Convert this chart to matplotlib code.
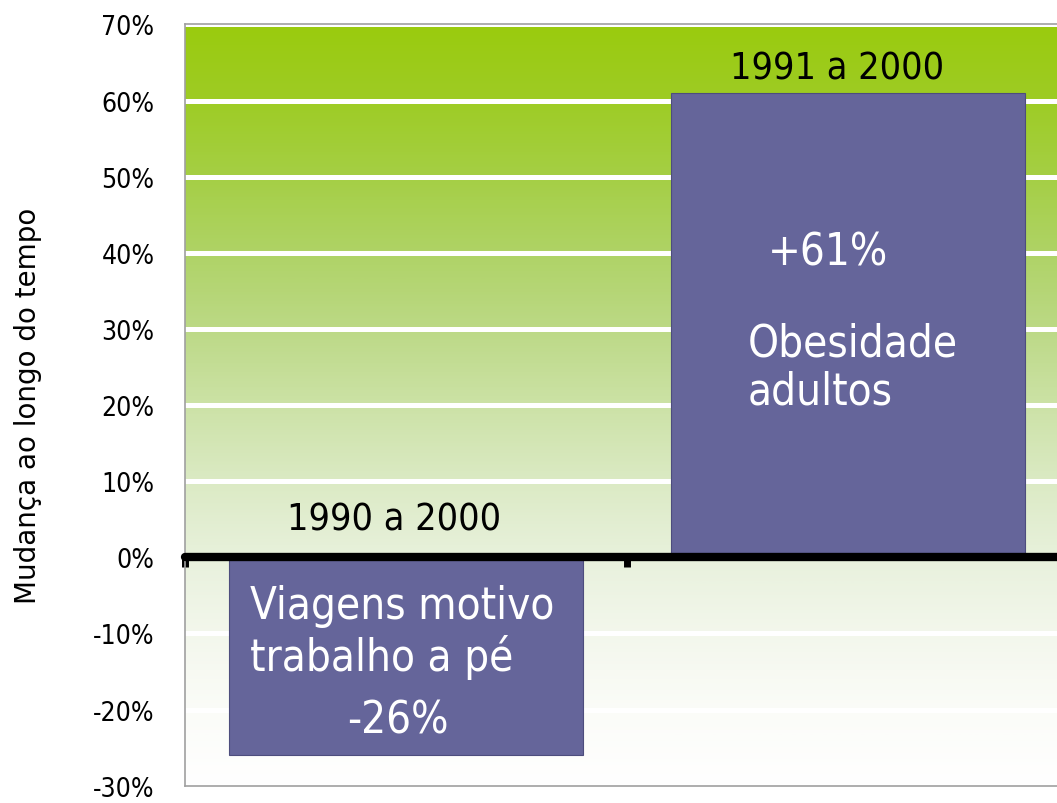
import numpy as np
import matplotlib.pyplot as plt
from matplotlib.colors import LinearSegmentedColormap
from matplotlib.ticker import FuncFormatter

# dados
periodos = ["1990 a 2000", "1991 a 2000"]
indicadores = ["Viagens motivo\ntrabalho a pé", "Obesidade\nadultos"]
variacao = [-26, 61]
yticks = list(range(-30, 71, 10))

bar_color = "#65659a"
# cores do degradê, de -30% (baixo) a 70% (topo)
fundo_cores = ["#ffffff", "#fbfcf8", "#f3f7ec", "#e8f1dc", "#dbeac4",
               "#cce2a6", "#bcd986", "#afd366", "#a5cf45", "#9ecc25", "#9acb0e"]

fig = plt.figure(figsize=(10.57, 8.04), dpi=100)
ax = fig.add_axes([0.175, 0.0215, 0.8363, 0.9469])

ymin, ymax = -30, 70
ax.set_xlim(0, 2)
ax.set_ylim(ymin, ymax)

# fundo em degradê verde -> branco
cmap = LinearSegmentedColormap.from_list("fundo", fundo_cores)
grad = np.linspace(0, 1, 512).reshape(-1, 1)
ax.imshow(grad, extent=[0, 2, ymin, ymax], origin="lower", aspect="auto",
          cmap=cmap, zorder=0)

# linhas de grelha brancas
for t in yticks:
    if t not in (0, ymin):
        ax.axhline(t, color="white", lw=3.6, zorder=1)

x = np.arange(len(variacao)) + 0.5
ax.bar(x, variacao, width=0.8, color=bar_color, edgecolor="#4d4d7d",
       linewidth=0.8, zorder=2)

# eixo no zero
ax.spines["bottom"].set_position(("data", 0))
ax.spines["bottom"].set_color("black")
ax.spines["bottom"].set_linewidth(6)
ax.spines["bottom"].set_capstyle("round")
ax.spines["bottom"].set_zorder(3)
ax.set_xticks([0, 1, 2])
ax.set_xticklabels([])
ax.tick_params(axis="x", direction="out", length=7, width=5, color="black")
ax.axhline(ymin, color="#a0a0a0", lw=1.2, zorder=3, clip_on=False)

for s in ["left", "top", "right"]:
    ax.spines[s].set_color("#a0a0a0")
    ax.spines[s].set_linewidth(1.2)

fnt = dict(fontfamily="DejaVu Sans", fontstretch="condensed")

ax.set_yticks(yticks)
ax.yaxis.set_major_formatter(FuncFormatter(lambda v, p: f"{v:.0f}%"))
ax.tick_params(axis="y", length=0, pad=22)
for lab in ax.get_yticklabels():
    lab.set_fontfamily("DejaVu Sans")
    lab.set_fontstretch("condensed")
    lab.set_fontsize(19)

ax.set_ylabel("Mudança ao longo do tempo", fontsize=20, fontfamily="DejaVu Sans")
ax.yaxis.set_label_coords(-0.162, 0.5)

# rótulos dos períodos
ax.text(0.473, 5, periodos[0], ha="center", va="center", fontsize=27, **fnt, zorder=4)
ax.text(1.475, 64.2, periodos[1], ha="center", va="center", fontsize=27, **fnt, zorder=4)

# textos dentro das barras
ax.text(0.147, -9.7, indicadores[0], ha="left", va="center", color="white",
        fontsize=31.5, linespacing=1.2, **fnt, zorder=4)
ax.text(0.482, -21.4, f"{variacao[0]}%", ha="center", va="center", color="white",
        fontsize=31.5, **fnt, zorder=4)
ax.text(1.455, 40.1, f"+{variacao[1]}%", ha="center", va="center", color="white",
        fontsize=31.5, **fnt, zorder=4)
ax.text(1.274, 25, indicadores[1], ha="left", va="center", color="white",
        fontsize=31.5, linespacing=1.15, **fnt, zorder=4)

fig.savefig("out.png", dpi=100)
